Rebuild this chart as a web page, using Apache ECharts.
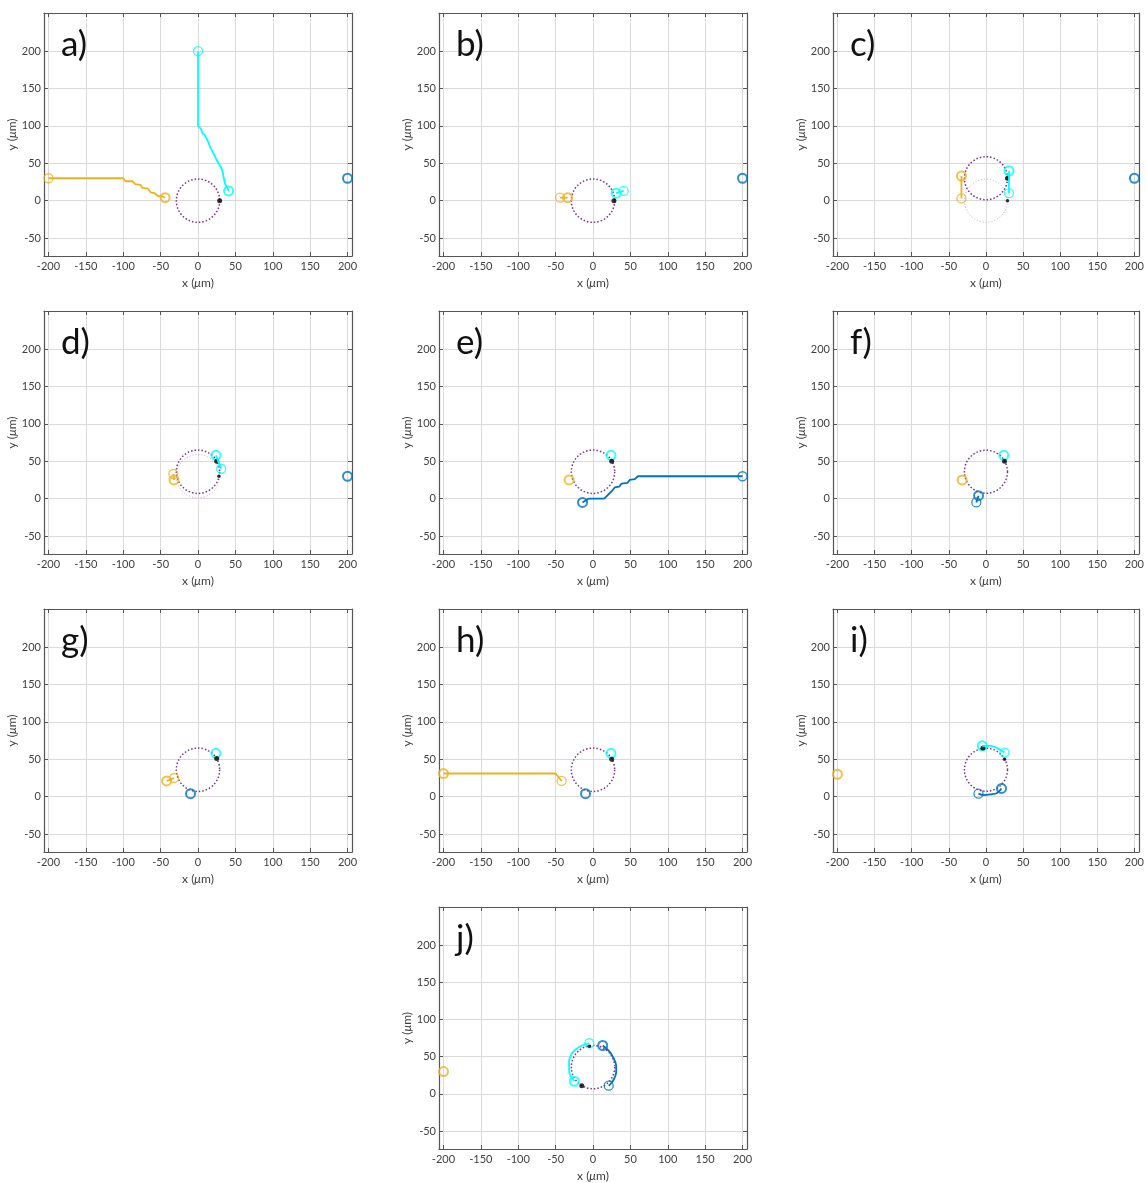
<!DOCTYPE html>
<html><head><meta charset="utf-8">
<script src="https://cdn.jsdelivr.net/npm/echarts@6/dist/echarts.min.js"></script>
<style>html,body{margin:0;padding:0;background:#fff}#c{width:1147px;height:1183px}</style>
</head><body><div id="c"></div>
<script>
const panelLabels = ['a)','b)','c)','d)','e)','f)','g)','h)','i)','j)'];
const xTicks = [-200,-150,-100,-50,0,50,100,150,200];
const yTicks = [-50,0,50,100,150,200];

// tracks per panel (first point = previous position, last point = current position)
const orangeTracks = [
  [[-200,30],[-100,30],[-97,26],[-88,26],[-84,22],[-77,21],[-74,17],[-67,16],[-63,11],[-58,10],[-53,6],[-48,6],[-44,4]],
  [[-44,4],[-34,4]],
  [[-33,3],[-33,33]],
  [[-33,33],[-32,25]],
  [[-32,25]],
  [[-32,25]],
  [[-32,25],[-42,21]],
  [[-42,21],[-50,31],[-200,31]],
  [[-200,30]],
  [[-200,30]]
];
const cyanTracks = [
  [[0,200],[0,100],[4,96],[6,90],[9,88],[12,82],[14,78],[16,72],[18,70],[21,63],[23,61],[25,54],[27,52],[30,46],[32,42],[34,33],[36,23],[41,13]],
  [[41,13],[31,10]],
  [[31,10],[31,40]],
  [[31,40],[24,58]],
  [[24,58]],
  [[24,58]],
  [[24,58]],
  [[24,58]],
  [[25,59],[17,64],[6,68],[-5,68]],
  [[-5,68],[-15,65],[-24,59],[-29,53],[-32,44],[-32,35],[-31,26],[-25,17]]
];
const blueTracks = [
  [[200,30]],
  [[200,30]],
  [[200,30]],
  [[200,30]],
  [[200,30],[60,30],[56,26],[49,25],[46,21],[38,20],[35,16],[29,15],[25,10],[15,0],[-6,0],[-14,-5]],
  [[-13,-5],[-10,4]],
  [[-10,4]],
  [[-10,4]],
  [[-10,4],[-3,2],[6,3],[15,5],[21,11]],
  [[21,11],[24,14],[28,20],[31,29],[31,38],[27,49],[21,58],[13,65]]
];
const targetCenters = [[0,0],[0,0],[0,30],[0,36],[0,36],[0,36],[0,36],[0,36],[0,36],[0,36]];
const previousCenters = [null,null,[0,0],[0,30],null,null,null,null,null,null];
const targetRadius = 29;
const contactPoints = [[[29,0]],[[28,0]],[[29,30]],[[25,50]],[[25,50]],[[25,50]],[[25,51]],[[25,50]],[[-4,65]],[[-15,11]]];
const previousContacts = [[],[],[[29,0]],[[28,30]],[],[],[],[],[[25,50]],[[-5,64]]];

const COLORS = {orange:'#EDB120', cyan:'#00FFFF', blue:'#0072BD', purple:'#7E2F8E', faint:'#c9a6d3'};
const FONT = 'Lato';
const colLeft = [44,439,833], rowTop = [13,311,609,907];
const W = 308, H = 243;

const grid = [], xAxis = [], yAxis = [], series = [], title = [];
const axisCol = '#555555';

function circleSeries(i, center, r, color, width, dash){
  return {
    type:'custom', xAxisIndex:2*i, yAxisIndex:2*i, silent:true, clip:false,
    data:[[center[0], center[1], r]], encode:{x:0,y:1},
    renderItem:(params, api)=>{
      const c = api.coord([api.value(0), api.value(1)]);
      const s = api.size([api.value(2), api.value(2)]);
      return {type:'circle', shape:{cx:c[0], cy:c[1], r:s[0]},
        style:{fill:'none', stroke:color, lineWidth:width, lineDash:dash}};
    }
  };
}

panelLabels.forEach((lab, i)=>{
  const col = i < 9 ? i % 3 : 1;
  const row = Math.floor(i/3);
  const L = colLeft[col], T = rowTop[row];
  grid.push({left:L, top:T, width:W, height:H, show:false});
  const common = {gridIndex:i, type:'value', min:-206, max:206};
  xAxis.push({...common, position:'bottom',
    axisLine:{show:true, onZero:false, lineStyle:{color:axisCol, width:1.2}},
    axisTick:{show:true, inside:true, length:4, customValues:xTicks, lineStyle:{color:axisCol}},
    axisLabel:{customValues:xTicks, fontSize:11, color:'#404040', margin:5, fontFamily:FONT},
    splitLine:{show:true, lineStyle:{color:'#dadada', width:1}},
    name:'x ({mu|μ}m)', nameLocation:'middle', nameGap:21,
    nameTextStyle:{fontSize:12, color:'#404040', fontFamily:FONT,
      rich:{mu:{fontSize:12, color:'#404040', fontStyle:'italic', fontFamily:FONT}}}
  });
  xAxis.push({...common, position:'top',
    axisLine:{show:true, onZero:false, lineStyle:{color:axisCol, width:1.2}},
    axisTick:{show:true, inside:true, length:4, customValues:xTicks, lineStyle:{color:axisCol}},
    axisLabel:{show:false}, splitLine:{show:false}
  });
  const ycommon = {gridIndex:i, type:'value', min:-74, max:251};
  yAxis.push({...ycommon, position:'left',
    axisLine:{show:true, onZero:false, lineStyle:{color:axisCol, width:1.2}},
    axisTick:{show:true, inside:true, length:4, customValues:yTicks, lineStyle:{color:axisCol}},
    axisLabel:{customValues:yTicks, fontSize:11, color:'#404040', margin:3, fontFamily:FONT},
    splitLine:{show:true, lineStyle:{color:'#dadada', width:1}},
    name:'y ({mu|μ}m)', nameLocation:'middle', nameGap:19,
    nameTextStyle:{fontSize:12, color:'#404040', fontFamily:FONT,
      rich:{mu:{fontSize:12, color:'#404040', fontStyle:'italic', fontFamily:FONT}}}
  });
  yAxis.push({...ycommon, position:'right',
    axisLine:{show:true, onZero:false, lineStyle:{color:axisCol, width:1.2}},
    axisTick:{show:true, inside:true, length:4, customValues:yTicks, lineStyle:{color:axisCol}},
    axisLabel:{show:false}, splitLine:{show:false}
  });
  title.push({text:lab, left:L+17, top:T+14, padding:0,
    textStyle:{fontSize:35, fontWeight:'normal', color:'#111', fontFamily:FONT}});

  // target circles
  if (previousCenters[i]) series.push(circleSeries(i, previousCenters[i], targetRadius, COLORS.faint, 1, [1,2]));
  series.push(circleSeries(i, targetCenters[i], targetRadius, COLORS.purple, 1.5, [1.5,2]));

  const tracks = [[orangeTracks[i], COLORS.orange],[cyanTracks[i], COLORS.cyan],[blueTracks[i], COLORS.blue]];
  tracks.forEach(([tr, color])=>{
    if (tr.length > 1) {
      series.push({type:'line', xAxisIndex:2*i, yAxisIndex:2*i, data:tr, showSymbol:false, silent:true,
        smooth: i >= 8 ? 0.35 : false, clip:false,
        lineStyle:{color, width:1.8}});
      series.push({type:'scatter', xAxisIndex:2*i, yAxisIndex:2*i, data:[tr[0]], symbol:'circle', symbolSize:9, silent:true, clip:false,
        itemStyle:{color:'rgba(0,0,0,0)', borderColor:color, borderWidth:1.3}});
    }
    series.push({type:'scatter', xAxisIndex:2*i, yAxisIndex:2*i, data:[tr[tr.length-1]], symbol:'circle', symbolSize:9, silent:true, clip:false,
      itemStyle:{color:'rgba(0,0,0,0)', borderColor:color, borderWidth:2}});
  });
  if (previousContacts[i].length)
    series.push({type:'scatter', xAxisIndex:2*i, yAxisIndex:2*i, data:previousContacts[i], symbol:'circle', symbolSize:3.5, silent:true,
      itemStyle:{color:'#000'}});
  series.push({type:'scatter', xAxisIndex:2*i, yAxisIndex:2*i, data:contactPoints[i], symbol:'circle', symbolSize:5, silent:true,
    itemStyle:{color:'#000'}});
});

const chart = echarts.init(document.getElementById('c'), null, {renderer:'canvas'});
chart.setOption({animation:false, backgroundColor:'#fff', title, grid, xAxis, yAxis, series});
</script></body></html>
